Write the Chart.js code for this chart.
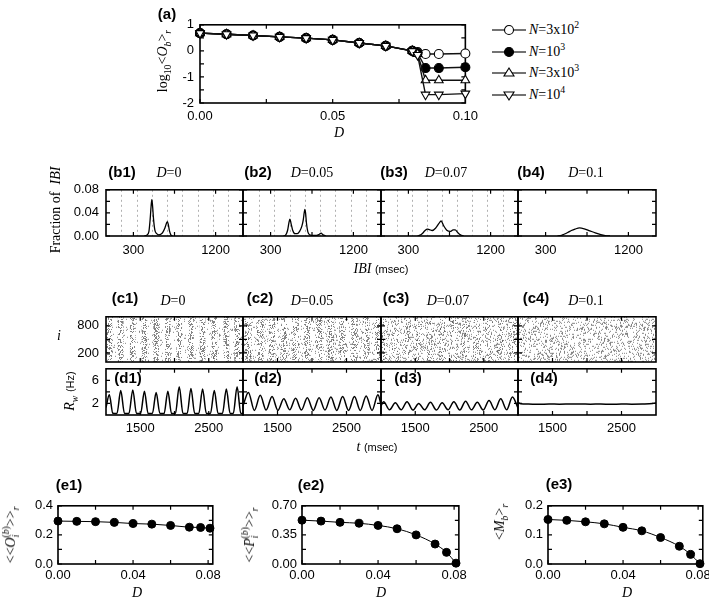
<!DOCTYPE html>
<html>
<head>
<meta charset="utf-8">
<script src="https://cdn.jsdelivr.net/npm/chart.js@4.4.1/dist/chart.umd.min.js"></script>
<style>
  body { margin: 0; background: #fff; width: 709px; height: 598px; position: relative; overflow: hidden; }
  canvas { position: absolute; }
  .t { position: absolute; white-space: nowrap; color: #000; line-height: 1; transform: translate(-50%, -50%); }
  .rot { transform: translate(-50%, -50%) rotate(-90deg); }
  .b { font: bold 15px "Liberation Sans", Arial, sans-serif; }
  .s { font: 14px "Liberation Serif", "Times New Roman", serif; }
  .u { font: 11px "Liberation Sans", Arial, sans-serif; font-style: normal; }
  sub, sup { font-size: 70%; line-height: 0; }
  .leg { position: absolute; display: flex; align-items: center; font: 14px "Liberation Serif", "Times New Roman", serif; white-space: nowrap; }
</style>
</head>
<body>
<script>
// ---------- data ----------
// (a) log10 <O_b>_r vs D
const dA = [0, 0.01, 0.02, 0.03, 0.04, 0.05, 0.06, 0.07, 0.08, 0.082, 0.085, 0.09, 0.1];
const logO_N300 = [0.68, 0.64, 0.59, 0.535, 0.49, 0.42, 0.30, 0.19, 0.0, -0.05, -0.12, -0.12, -0.10];
const logO_N1000 = [0.68, 0.64, 0.59, 0.535, 0.49, 0.42, 0.30, 0.19, 0.0, -0.08, -0.66, -0.66, -0.63];
const logO_N3000 = [0.68, 0.64, 0.59, 0.535, 0.49, 0.42, 0.30, 0.19, 0.0, -0.12, -1.13, -1.13, -1.13];
const logO_N10000 = [0.68, 0.64, 0.59, 0.535, 0.49, 0.42, 0.30, 0.19, -0.01, -0.16, -1.68, -1.68, -1.64];

// (b1-b4) IBI histograms
const b1IBI = [420, 450, 470, 484, 494, 502, 510, 520, 535, 555, 580, 600, 620, 645, 662, 672, 682, 695, 710, 730];
const b1Frac = [0, 0.002, 0.008, 0.03, 0.052, 0.063, 0.052, 0.03, 0.01, 0.004, 0.002, 0.003, 0.006, 0.014, 0.022, 0.025, 0.02, 0.009, 0.002, 0];
const b2IBI = [440, 465, 485, 498, 510, 522, 540, 565, 590, 615, 640, 655, 665, 672, 680, 690, 705, 725, 760, 800, 830, 849, 870, 900];
const b2Frac = [0, 0.002, 0.01, 0.022, 0.029, 0.022, 0.01, 0.004, 0.004, 0.008, 0.017, 0.028, 0.04, 0.046, 0.04, 0.022, 0.007, 0.002, 0.001, 0.001, 0.003, 0.005, 0.002, 0];
const b3IBI = [400, 420, 450, 480, 507, 530, 561, 600, 635, 658, 685, 720, 758, 790, 812, 840, 870, 905];
const b3Frac = [0, 0.001, 0.004, 0.009, 0.012, 0.011, 0.0095, 0.014, 0.022, 0.026, 0.018, 0.01, 0.008, 0.0105, 0.0105, 0.006, 0.002, 0];
const b4IBI = [430, 460, 500, 540, 580, 620, 669, 720, 780, 840, 900, 964, 1000];
const b4Frac = [0, 0.0005, 0.003, 0.006, 0.0095, 0.012, 0.014, 0.0125, 0.009, 0.0055, 0.0025, 0.0003, 0];
// dotted lines (multiples of the population period)
const b1Grid = [169, 335, 501, 668, 835, 1002, 1169, 1336];
const b2Grid = [176, 342, 510, 674, 838, 1005, 1170, 1338];
const b3Grid = [172, 338, 507, 669, 831, 1000, 1165, 1334];

// (c1-c3) burst times of the raster stripes
const c1Bursts = [1048, 1215, 1391, 1561, 1732, 1903, 2069, 2240, 2410, 2581, 2757, 2914];
const c2Bursts = [1078, 1250, 1421, 1591, 1762, 1932, 2103, 2274, 2444, 2615, 2785, 2956];
const c3Bursts = [1038, 1209, 1380, 1551, 1722, 1893, 2064, 2235, 2406, 2577, 2748, 2919];

// (d1-d4) instantaneous population rate R_w
const d1T = [1000, 1048, 1100, 1160, 1215, 1270, 1335, 1391, 1445, 1505, 1561, 1615, 1677, 1732, 1787, 1848, 1903, 1957, 2013, 2069, 2124, 2185, 2240, 2295, 2355, 2410, 2465, 2525, 2581, 2636, 2700, 2757, 2812, 2858, 2914, 2968, 3000];
const d1R = [1.3, 3.5, 0.3, 0.25, 4.25, 0.25, 0.25, 4.35, 0.25, 0.25, 4.1, 0.25, 0.25, 3.9, 0.25, 0.25, 4.1, 0.25, 0.25, 4.9, 0.25, 0.25, 4.6, 0.25, 0.25, 4.5, 0.25, 0.25, 4.25, 0.25, 0.25, 4.5, 0.25, 0.25, 4.9, 0.25, 0.3];
const d2T = [1000, 1078, 1165, 1250, 1335, 1421, 1506, 1591, 1677, 1762, 1847, 1932, 2018, 2103, 2188, 2274, 2359, 2444, 2530, 2615, 2700, 2785, 2870, 2956, 3000];
const d2R = [1.6, 3.9, 0.8, 3.4, 0.85, 3.2, 0.8, 2.8, 0.9, 2.9, 0.85, 3.0, 0.8, 3.0, 0.85, 3.1, 0.8, 3.2, 0.8, 3.2, 0.8, 3.3, 0.8, 3.5, 1.8];
const d3T = [1000, 1038, 1124, 1209, 1295, 1380, 1466, 1551, 1637, 1722, 1808, 1893, 1979, 2064, 2150, 2235, 2321, 2406, 2492, 2577, 2663, 2748, 2834, 2919, 3000];
const d3R = [1.6, 2.3, 0.9, 2.1, 0.9, 2.3, 0.85, 2.0, 0.9, 2.2, 0.85, 2.1, 0.9, 2.3, 0.85, 2.4, 0.9, 2.2, 0.85, 2.5, 0.9, 2.8, 0.9, 3.1, 1.2];
const d4T = [1000, 1040, 1150, 1300, 1450, 1600, 1750, 1900, 2050, 2200, 2350, 2500, 2650, 2800, 2950, 3000];
const d4R = [2.15, 1.95, 1.9, 1.85, 1.9, 1.87, 1.9, 1.92, 1.88, 1.9, 1.86, 1.9, 1.88, 1.9, 1.98, 2.1];

// (e1-e3)
const dE = [0, 0.01, 0.02, 0.03, 0.04, 0.05, 0.06, 0.07, 0.076, 0.081];
const occupation = [0.295, 0.293, 0.291, 0.286, 0.278, 0.274, 0.265, 0.253, 0.251, 0.246];
const pacing = [0.527, 0.516, 0.501, 0.49, 0.464, 0.424, 0.35, 0.24, 0.14, 0.01];
const measure = [0.153, 0.150, 0.145, 0.138, 0.126, 0.114, 0.091, 0.061, 0.033, 0.001];

// ---------- helpers ----------
const TICK_FONT = { family: '"Liberation Sans", Arial, sans-serif', size: 13 };
const PL = 50, PR = 8, PT = 8, PB = 26;

const xy = (xs, ys) => xs.map((v, i) => ({ x: v, y: ys[i] }));

function frame(front) {
  const draw = (chart) => {
    const { ctx, chartArea: a, scales } = chart;
    ctx.save();
    ctx.strokeStyle = '#000';
    ctx.lineWidth = 1.2;
    ctx.beginPath();
    scales.x.ticks.forEach(t => {
      const p = scales.x.getPixelForValue(t.value);
      ctx.moveTo(p, a.bottom); ctx.lineTo(p, a.bottom - 4);
      ctx.moveTo(p, a.top); ctx.lineTo(p, a.top + 4);
    });
    scales.y.ticks.forEach(t => {
      const p = scales.y.getPixelForValue(t.value);
      ctx.moveTo(a.left, p); ctx.lineTo(a.left + 4, p);
      ctx.moveTo(a.right, p); ctx.lineTo(a.right - 4, p);
    });
    ctx.stroke();
    ctx.lineWidth = 1.6;
    ctx.strokeRect(a.left, a.top, a.right - a.left, a.bottom - a.top);
    ctx.restore();
  };
  return front ? { id: 'frame', afterDatasetsDraw: draw } : { id: 'frame', beforeDatasetsDraw: draw };
}

function vgrid(values) {
  return {
    id: 'vgrid',
    beforeDatasetsDraw(chart) {
      const { ctx, chartArea: a, scales } = chart;
      ctx.save();
      ctx.strokeStyle = '#b0b0b0';
      ctx.lineWidth = 1;
      ctx.setLineDash([2, 3]);
      ctx.beginPath();
      values.forEach(v => {
        const p = Math.round(scales.x.getPixelForValue(v)) + 0.5;
        ctx.moveTo(p, a.top); ctx.lineTo(p, a.bottom);
      });
      ctx.stroke();
      ctx.restore();
    }
  };
}

// dotted texture for the raster plots (per-pixel hash, fixed seed)
function speckle(density, seed, color) {
  const W = 160, H = 60;
  const tile = document.createElement('canvas');
  tile.width = W; tile.height = H;
  const g = tile.getContext('2d');
  g.fillStyle = color;
  for (let y = 0; y < H; y++) {
    for (let x = 0; x < W; x++) {
      const h = Math.sin(x * 12.9898 + y * 78.233 + seed * 37.719) * 43758.5453;
      if (h - Math.floor(h) < density) g.fillRect(x, y, 1, 1);
    }
  }
  return g.createPattern(tile, 'repeat');
}

function bgFill(pattern) {
  return {
    id: 'bgfill',
    beforeDatasetsDraw(chart) {
      const { ctx, chartArea: a } = chart;
      ctx.save();
      ctx.translate(a.left, a.top);
      ctx.fillStyle = pattern;
      ctx.fillRect(0, 0, a.right - a.left, a.bottom - a.top);
      ctx.restore();
    }
  };
}

function lin(pos, min, max, ticks, texts, pad) {
  return {
    type: 'linear', position: pos, min, max, offset: false,
    afterBuildTicks: s => { s.ticks = ticks.map(v => ({ value: v })); },
    afterFit: s => { if (pos === 'left') s.width = PL; else s.height = PB; },
    ticks: {
      font: TICK_FONT, color: '#000', padding: pad, autoSkip: false,
      maxRotation: 0, minRotation: 0,
      callback: (v, i) => (texts[i] === undefined ? '' : texts[i])
    },
    grid: { display: false, drawTicks: false },
    border: { display: false }
  };
}

function makeChart(box, type, datasets, xScale, yScale, plugins) {
  const c = document.createElement('canvas');
  c.width = box.r - box.l + PL + PR;
  c.height = box.b - box.t + PT + PB;
  c.style.left = (box.l - PL) + 'px';
  c.style.top = (box.t - PT) + 'px';
  document.body.appendChild(c);
  return new Chart(c, {
    type,
    data: { datasets },
    options: {
      responsive: false, animation: false, events: [],
      layout: { padding: { top: PT, right: PR, left: 0, bottom: 0 }, autoPadding: false },
      plugins: { legend: { display: false }, tooltip: { enabled: false } },
      scales: { x: xScale, y: yScale }
    },
    plugins
  });
}

function put(html, x, y, cls) {
  const d = document.createElement('div');
  d.className = 't ' + cls;
  d.innerHTML = html;
  d.style.left = x + 'px';
  d.style.top = y + 'px';
  document.body.appendChild(d);
}

// ---------- (a) ----------
const aStyle = [
  { data: logO_N10000, pointStyle: 'triangle', bg: '#fff', r: 5, rot: 180 },
  { data: logO_N3000, pointStyle: 'triangle', bg: '#fff', r: 5, rot: 0 },
  { data: logO_N1000, pointStyle: 'circle', bg: '#000', r: 4.5, rot: 0 },
  { data: logO_N300, pointStyle: 'circle', bg: '#fff', r: 4.5, rot: 0 }
];
makeChart({ l: 200, t: 19, r: 476, b: 103 }, 'line',
  aStyle.map(s => ({
    data: xy(dA, s.data), borderColor: '#111', borderWidth: 1.4,
    pointStyle: s.pointStyle, pointRadius: s.r, pointRotation: s.rot,
    pointBackgroundColor: s.bg, pointBorderColor: '#000', pointBorderWidth: 1.1,
    tension: 0, clip: false
  })),
  lin('bottom', 0, 0.1, [0, 0.025, 0.05, 0.075, 0.1], ['0.00', '', '0.05', '', '0.10'], 6),
  lin('left', -2, 1, [-2, -1.5, -1, -0.5, 0, 0.5, 1], ['-2', '', '-1', '', '0', '', '1'], 6),
  [frame(false)]);

// legend for (a)
const legendRows = [
  { html: '<i>N</i>=3x10<sup>2</sup>', mk: '<circle cx="17" cy="7" r="4.5" fill="#fff" stroke="#000" stroke-width="1.1"/>', y: 29 },
  { html: '<i>N</i>=10<sup>3</sup>', mk: '<circle cx="17" cy="7" r="4.5" fill="#000" stroke="#000" stroke-width="1.1"/>', y: 51 },
  { html: '<i>N</i>=3x10<sup>3</sup>', mk: '<polygon points="17,2 22,10 12,10" fill="#fff" stroke="#000" stroke-width="1.1"/>', y: 72 },
  { html: '<i>N</i>=10<sup>4</sup>', mk: '<polygon points="17,12 22,4 12,4" fill="#fff" stroke="#000" stroke-width="1.1"/>', y: 94 }
];
legendRows.forEach(row => {
  const d = document.createElement('div');
  d.className = 'leg';
  d.style.left = '492px';
  d.style.top = (row.y - 7) + 'px';
  d.innerHTML = '<svg width="34" height="14"><line x1="0" y1="7" x2="34" y2="7" stroke="#444" stroke-width="1.5"/>' +
    row.mk + '</svg><span style="margin-left:3px">' + row.html + '</span>';
  document.body.appendChild(d);
});

// ---------- rows b, c, d ----------
const colL = [106, 243, 381, 518];
const colR = [243, 381, 518, 656];
const bSets = [[b1IBI, b1Frac, b1Grid], [b2IBI, b2Frac, b2Grid], [b3IBI, b3Frac, b3Grid], [b4IBI, b4Frac, null]];
bSets.forEach((set, k) => {
  const plugins = [frame(false)];
  if (set[2]) plugins.unshift(vgrid(set[2]));
  makeChart({ l: colL[k], t: 183, r: colR[k], b: 236 }, 'line',
    [{ data: xy(set[0], set[1]), borderColor: '#000', borderWidth: 1.3, pointRadius: 0, cubicInterpolationMode: 'monotone' }],
    lin('bottom', 0, 1500, [300, 750, 1200], ['300', '', '1200'], 7),
    lin('left', 0, 0.08, [0, 0.02, 0.04, 0.06, 0.08], k === 0 ? ['0.00', '', '0.04', '', '0.08'] : [], 7),
    plugins);
});

const DOT = 'rgba(80,80,80,0.7)';
const cSets = [
  { bursts: c1Bursts, bg: speckle(0.04, 1, DOT), st: speckle(0.30, 2, DOT), w: 5 },
  { bursts: c2Bursts, bg: speckle(0.09, 3, DOT), st: speckle(0.22, 4, DOT), w: 6 },
  { bursts: c3Bursts, bg: speckle(0.14, 5, DOT), st: speckle(0.12, 6, DOT), w: 7 },
  { bursts: [], bg: speckle(0.19, 7, DOT), st: null, w: 0 }
];
cSets.forEach((set, k) => {
  makeChart({ l: colL[k], t: 310, r: colR[k], b: 362 }, 'bar',
    [{ data: set.bursts.map(t => ({ x: t, y: [0, 1000] })), backgroundColor: set.st || 'rgba(0,0,0,0)', barThickness: set.w, borderWidth: 0 }],
    lin('bottom', 1000, 3000, [1500, 2000, 2500], [], 6),
    lin('left', 0, 1000, [200, 500, 800], k === 0 ? ['200', '', '800'] : [], 7),
    [bgFill(set.bg), frame(true)]);
});

const dSets = [[d1T, d1R], [d2T, d2R], [d3T, d3R], [d4T, d4R]];
dSets.forEach((set, k) => {
  makeChart({ l: colL[k], t: 362, r: colR[k], b: 415 }, 'line',
    [{ data: xy(set[0], set[1]), borderColor: '#000', borderWidth: 1.5, pointRadius: 0, cubicInterpolationMode: 'monotone' }],
    lin('bottom', 1000, 3000, [1500, 2000, 2500], ['1500', '', '2500'], 6),
    lin('left', 0, 8, [2, 4, 6], k === 0 ? ['2', '', '6'] : [], 7),
    [frame(false)]);
});

// ---------- row e ----------
const eSets = [
  { box: { l: 58, t: 501, r: 217, b: 564 }, vals: occupation, max: 0.4, ticks: [0, 0.1, 0.2, 0.3, 0.4], txt: ['0.0', '', '0.2', '', '0.4'] },
  { box: { l: 302, t: 501, r: 463, b: 564 }, vals: pacing, max: 0.7, ticks: [0, 0.175, 0.35, 0.525, 0.7], txt: ['0.00', '', '0.35', '', '0.70'] },
  { box: { l: 548, t: 501, r: 707, b: 564 }, vals: measure, max: 0.2, ticks: [0, 0.05, 0.1, 0.15, 0.2], txt: ['0.0', '', '0.1', '', '0.2'] }
];
eSets.forEach(set => {
  makeChart(set.box, 'line',
    [{ data: xy(dE, set.vals), borderColor: '#000', borderWidth: 1, pointRadius: 4, pointBackgroundColor: '#000', pointBorderColor: '#000', cubicInterpolationMode: 'monotone', clip: false }],
    lin('bottom', 0, 0.0825, [0, 0.02, 0.04, 0.06, 0.08], ['0.00', '', '0.04', '', '0.08'], 4),
    lin('left', 0, set.max, set.ticks, set.txt, 5),
    [frame(false)]);
});

// ---------- text ----------
const panelLabels = [
  ['(a)', 167, 13], ['(b1)', 122, 171], ['(b2)', 258, 171], ['(b3)', 394, 171], ['(b4)', 531, 171],
  ['(c1)', 125, 297], ['(c2)', 260, 297], ['(c3)', 396, 297], ['(c4)', 536, 297],
  ['(d1)', 128, 377], ['(d2)', 268, 377], ['(d3)', 408, 377], ['(d4)', 544, 377],
  ['(e1)', 69, 484], ['(e2)', 311, 484], ['(e3)', 559, 483]
];
panelLabels.forEach(p => put(p[0], p[1], p[2], 'b'));

const dLabels = [['0', 169, 173], ['0.05', 312, 173], ['0.07', 446, 173], ['0.1', 586, 173],
                 ['0', 173, 301], ['0.05', 312, 301], ['0.07', 448, 301], ['0.1', 586, 301]];
dLabels.forEach(p => put('<i>D</i>=' + p[0], p[1], p[2], 's'));

put('log<sub>10</sub>&lt;<i>O</i><sub><i>b</i></sub>&gt;<sub><i>r</i></sub>', 163, 61, 's rot');
put('<i>D</i>', 339, 133, 's');
put('Fraction of &nbsp;<i>IBI</i>', 56, 210, 's rot');
put('<i>IBI</i> <span class="u">(msec)</span>', 381, 269, 's');
put('<i>i</i>', 59, 336, 's');
put('<i>R</i><sub><i>w</i></sub> <span class="u">(Hz)</span>', 70, 391, 's rot');
put('<i>t</i> <span class="u">(msec)</span>', 377, 447, 's');
put('<i>D</i>', 137, 593, 's');
put('<i>D</i>', 381, 593, 's');
put('<i>D</i>', 627, 593, 's');
put('&lt;&lt;<i>O</i><sub><i>i</i></sub><sup style="margin-left:-3px">(<i>b</i>)</sup>&gt;&gt;<sub><i>r</i></sub>', 11, 535, 's rot');
put('&lt;&lt;<i>P</i><sub><i>i</i></sub><sup style="margin-left:-3px">(<i>b</i>)</sup>&gt;&gt;<sub><i>r</i></sub>', 250, 535, 's rot');
put('&lt;<i>M</i><sub><i>b</i></sub>&gt;<sub><i>r</i></sub>', 500, 522, 's rot');
</script>
</body>
</html>
